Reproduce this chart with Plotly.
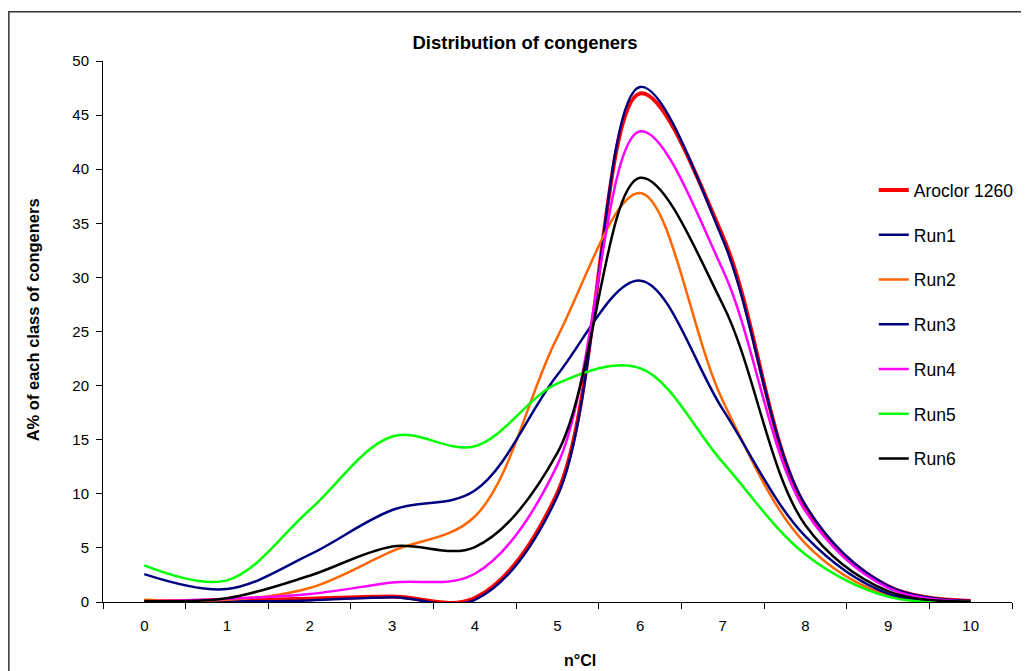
import plotly.graph_objects as go

categories = ["0", "1", "2", "3", "4", "5", "6", "7", "8", "9", "10"]

aroclor_1260 = [0.05, 0.15, 0.3, 0.5, 0.37, 10.1, 47.0, 33.8, 8.8, 1.45, 0.1]
run1 = [0.0, 0.05, 0.15, 0.45, 0.2, 9.8, 47.6, 33.5, 8.95, 1.5, 0.1]
run2 = [0.2, 0.2, 1.29, 4.7, 7.9, 24.5, 37.8, 18.6, 5.4, 0.6, 0.05]
run3 = [2.58, 1.2, 4.37, 8.5, 10.3, 21.0, 29.7, 17.8, 6.06, 0.77, 0.05]
run4 = [0.05, 0.3, 0.74, 1.8, 2.61, 12.7, 43.5, 30.7, 8.4, 1.3, 0.05]
run5 = [3.38, 2.0, 8.5, 15.3, 14.4, 20.2, 21.6, 12.9, 4.4, 0.5, 0.05]
run6 = [0.1, 0.35, 2.43, 5.13, 5.08, 13.8, 39.2, 27.5, 7.1, 1.0, 0.05]

series_names = ["Aroclor 1260", "Run1", "Run2", "Run3", "Run4", "Run5", "Run6"]
series_values = [aroclor_1260, run1, run2, run3, run4, run5, run6]
series_colors = ["#FF0000", "#000080", "#FF6600", "#000080", "#FF00FF", "#00FF00", "#000000"]
series_widths = [4, 2.5, 2.5, 2.5, 2.5, 2.5, 2.5]

FONT = "Liberation Sans, Arial, sans-serif"

fig = go.Figure()
for name, vals, col, w in zip(series_names, series_values, series_colors, series_widths):
    fig.add_trace(go.Scatter(
        x=categories, y=vals, name=name, mode="lines",
        line=dict(color=col, width=w, shape="spline", smoothing=1.0),
        legendgroup=name,
    ))

# page body has an 8px margin: figure is placed at (8, 8) in the window
OFF = 8
W, H = 1029 - OFF, 671 - OFF
PX0, PX1, PY0, PY1 = 102.7, 1012.3, 60.7, 602.3   # plot area in window pixels
L = PX0 - OFF
R = W - (PX1 - OFF)
T = PY0 - OFF
B = H - (PY1 - OFF)
pw, ph = PX1 - PX0, PY1 - PY0

def px_x(p):
    return (p - PX0) / pw

def px_y(p):
    return (PY1 - p) / ph

fig.update_layout(
    width=W, height=H,
    margin=dict(l=L, r=R, t=T, b=B, autoexpand=False),
    paper_bgcolor="white", plot_bgcolor="white",
    font=dict(family=FONT, color="black", size=15),
    title=dict(text="<b>Distribution of congeners</b>", font=dict(size=18.5, family=FONT),
               x=(525 - OFF) / W, xref="container", xanchor="center",
               y=1 - (43 - OFF) / H, yref="container", yanchor="middle"),
    showlegend=True,
    legend=dict(
        x=px_x(874), y=px_y(172), xanchor="left", yanchor="top",
        font=dict(size=17.5, family=FONT), bgcolor="rgba(0,0,0,0)",
        traceorder="grouped", tracegroupgap=19, itemwidth=30,
    ),
    xaxis=dict(
        type="category", categoryorder="array", categoryarray=categories,
        range=[-0.5, 10.5], tickson="boundaries", ticks="outside", ticklen=6,
        tickcolor="black", showline=True, linecolor="black", linewidth=1,
        showgrid=False, zeroline=False, tickfont=dict(size=15, family=FONT),
        ticklabelstandoff=10,
    ),
    yaxis=dict(
        range=[0, 50], dtick=5, tick0=0, ticks="outside", ticklen=6,
        tickcolor="black", showline=True, linecolor="black", linewidth=1,
        showgrid=False, zeroline=False, tickfont=dict(size=15, family=FONT),
        ticklabelstandoff=4,
    ),
    annotations=[
        dict(text="<b>A% of each class of congeners</b>", textangle=-90,
             xref="paper", yref="paper", x=px_x(33), y=px_y(320),
             xanchor="center", yanchor="middle", showarrow=False,
             font=dict(size=16.5, family=FONT)),
        dict(text="<b>n°Cl</b>", xref="paper", yref="paper",
             x=px_x(580), y=px_y(661), xanchor="center", yanchor="middle",
             showarrow=False, font=dict(size=16, family=FONT)),
    ],
    shapes=[
        dict(type="rect", xref="paper", yref="paper",
             x0=px_x(8.5), x1=px_x(1060), y0=px_y(700), y1=px_y(11.5),
             line=dict(color="#333333", width=1.5), fillcolor="rgba(0,0,0,0)",
             layer="below"),
    ],
)

fig.write_html("out.html")
